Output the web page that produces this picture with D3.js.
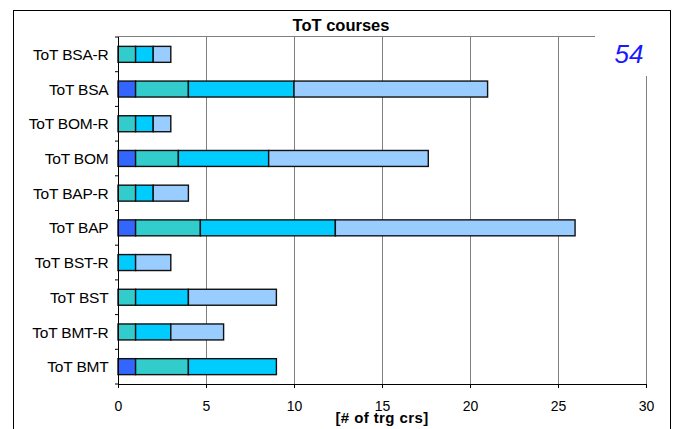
<!DOCTYPE html>
<html>
<head>
<meta charset="utf-8">
<script src="https://cdn.jsdelivr.net/npm/d3@7"></script>
<style>
  body { margin: 0; background: #fff; }
  svg { display: block; font-family: Arial, "Liberation Sans", sans-serif; }
</style>
</head>
<body>
<svg id="chart"></svg>
<script>
// categories, top to bottom
let categories = ["ToT BSA-R", "ToT BSA", "ToT BOM-R", "ToT BOM", "ToT BAP-R",
                  "ToT BAP", "ToT BST-R", "ToT BST", "ToT BMT-R", "ToT BMT"];

// four stacked series (left to right in each bar)
let series1 = [0, 1, 0, 1,    0, 1,    0, 0, 0, 1];
let series2 = [1, 3, 1, 2.43, 1, 3.68, 0, 1, 1, 3];
let series3 = [1, 6, 1, 5.13, 1, 7.67, 1, 3, 2, 5];
let series4 = [1, 11, 1, 9.07, 2, 13.62, 2, 5, 3, 0];

let xTicks = [0, 5, 10, 15, 20, 25, 30];
let seriesColors = ["#3366ff", "#33cccc", "#00ccff", "#99ccff"];

let width = 676, height = 429;

let svg = d3.select("#chart")
    .attr("width", width)
    .attr("height", height);

// outer chart frame
svg.append("rect")
    .attr("x", 13.5).attr("y", 10.5)
    .attr("width", 657).attr("height", 440)
    .attr("fill", "white")
    .attr("stroke", "black")
    .attr("stroke-width", 1);

let x = d3.scaleLinear()
    .domain([0, 30])
    .range([118, 646]);

let y = d3.scaleBand()
    .domain(categories)
    .range([37, 384])
    .paddingInner(0.54)
    .paddingOuter(0.27);

// build table for the stack
let table = categories.map(function(c, i) {
    return {cat: c, s1: series1[i], s2: series2[i], s3: series3[i], s4: series4[i]};
});
let keys = ["s1", "s2", "s3", "s4"];
let stacked = d3.stack().keys(keys)(table);

// gridlines
svg.append("g")
    .selectAll("line")
    .data(xTicks.filter(function(d) { return d > 0 && d < 30; }))
    .enter().append("line")
    .attr("x1", function(d) { return Math.round(x(d)) + 0.5; })
    .attr("x2", function(d) { return Math.round(x(d)) + 0.5; })
    .attr("y1", 37)
    .attr("y2", 384)
    .attr("stroke", "#808080")
    .attr("stroke-width", 1);

// plot area border (top & right), partly hidden by the "54" box
svg.append("line")
    .attr("x1", 118).attr("x2", 595)
    .attr("y1", 36.5).attr("y2", 36.5)
    .attr("stroke", "#808080");
svg.append("line")
    .attr("x1", Math.round(x(30)) + 0.5).attr("x2", Math.round(x(30)) + 0.5)
    .attr("y1", 76).attr("y2", 384)
    .attr("stroke", "#808080");

// bars
let layer = svg.append("g")
    .selectAll("g")
    .data(stacked)
    .enter().append("g")
    .attr("fill", function(d, i) { return seriesColors[i]; });

layer.selectAll("rect")
    .data(function(d) { return d.filter(function(p) { return p[1] - p[0] > 0; }); })
    .enter().append("rect")
    .attr("x", function(d) { return x(d[0]); })
    .attr("y", function(d) { return y(d.data.cat); })
    .attr("width", function(d) { return x(d[1]) - x(d[0]); })
    .attr("height", y.bandwidth())
    .attr("stroke", "#111")
    .attr("stroke-width", 1.4);

// bottom axis
let xAxis = svg.append("g")
    .attr("transform", "translate(0,384)")
    .call(d3.axisBottom(x).tickValues(xTicks).tickSize(4).tickSizeOuter(0).tickPadding(13));
xAxis.select(".domain").attr("stroke", "black");
xAxis.selectAll("text")
    .attr("font-size", 14)
    .attr("fill", "black")
    .attr("font-family", "Arial, 'Liberation Sans', sans-serif");

// left axis: ticks on band boundaries
let yAxis = svg.append("g");
yAxis.append("line")
    .attr("x1", 118.5).attr("x2", 118.5)
    .attr("y1", 37).attr("y2", 384)
    .attr("stroke", "black");
yAxis.selectAll("line.tick")
    .data(d3.range(categories.length + 1))
    .enter().append("line")
    .attr("class", "tick")
    .attr("x1", 115).attr("x2", 118)
    .attr("y1", function(i) { return 37 + i * (347 / categories.length); })
    .attr("y2", function(i) { return 37 + i * (347 / categories.length); })
    .attr("stroke", "black");

yAxis.selectAll("text")
    .data(categories)
    .enter().append("text")
    .attr("x", 108.5)
    .attr("y", function(d) { return y(d) + y.bandwidth() / 2; })
    .attr("dy", "0.36em")
    .attr("text-anchor", "end")
    .attr("font-size", 15.5)
    .attr("letter-spacing", -0.2)
    .text(function(d) { return d; });

// title
svg.append("text")
    .attr("x", 341).attr("y", 31)
    .attr("text-anchor", "middle")
    .attr("font-size", 16.5)
    .attr("font-weight", "bold")
    .text("ToT courses");

// x axis label
svg.append("text")
    .attr("x", 382).attr("y", 423)
    .attr("text-anchor", "middle")
    .attr("font-size", 15)
    .attr("font-weight", "bold")
    .attr("letter-spacing", 0.4)
    .text("[# of trg crs]");

// page number
svg.append("text")
    .attr("x", 629).attr("y", 62.5)
    .attr("text-anchor", "middle")
    .attr("font-size", 26)
    .attr("font-style", "italic")
    .attr("fill", "#1a1aff")
    .text("54");
</script>
</body>
</html>
